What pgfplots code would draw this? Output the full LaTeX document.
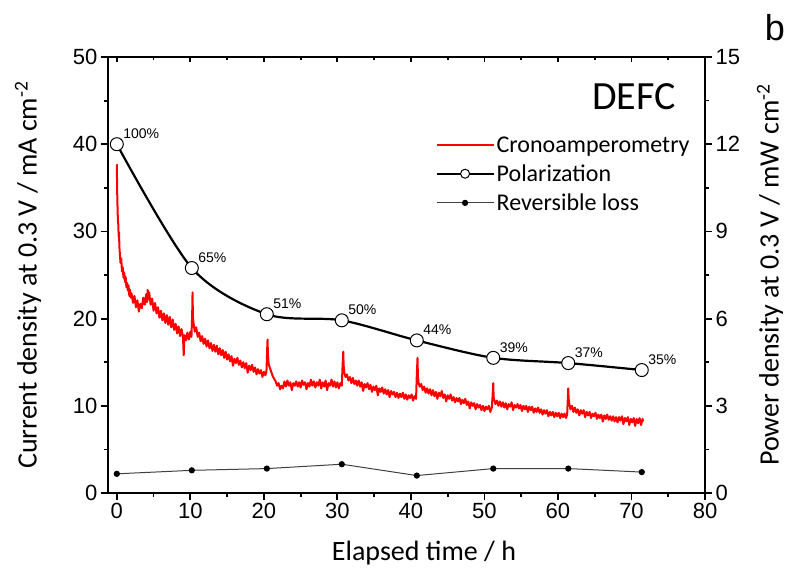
\documentclass[border=0pt]{standalone}
\usepackage{fontspec}
\setmainfont{Carlito}
\newfontfamily\arial{Liberation Sans}
\usepackage{pgfplots}
\pgfplotsset{compat=1.18}

\pgfplotsset{
  mystyle/.style={
    width=597pt, height=436pt, scale only axis,
    xmin=-1.2, xmax=80,
    axis line style={line width=2pt},
    major tick length=7pt, minor tick length=4pt,
    every tick/.style={line width=1.8pt, black},
    tick label style={font=\arial\fontsize{22}{22}\selectfont},
    /pgf/number format/assume math mode=true,
  }
}

\begin{document}
\begin{tikzpicture}[x=1pt,y=1pt]
\useasboundingbox (-108,-81) rectangle (680,493);

% top ticks (inside)
\begin{axis}[mystyle, at={(0,0)}, anchor=south west,
  ymin=0, ymax=1, hide y axis, axis x line*=top, tick align=inside,
  xtick={0,10,...,80}, minor x tick num=1, xticklabels={},
  major tick length=5pt, minor tick length=3pt]
\end{axis}

% right axis
\begin{axis}[mystyle, at={(0,0)}, anchor=south west,
  ymin=0, ymax=15, ytick={0,3,...,15}, minor y tick num=1,
  hide x axis, axis y line*=right, tick align=outside]
\end{axis}

\begin{axis}[mystyle, at={(0,0)}, anchor=south west,
  ymin=0, ymax=50, ytick={0,10,...,50}, minor y tick num=1,
  xtick={0,10,...,80}, minor x tick num=1,
  tick align=outside, xtick pos=bottom, ytick pos=left,
  legend style={draw=none, fill=none, at={(axis description cs:0.544,0.826)}, anchor=north west,
    font=\fontsize{24}{24}\selectfont, row sep=8pt, legend cell align=left,
    nodes={inner sep=1.5pt}},
  legend image code/.code={\draw[#1, mark repeat=2, mark phase=2] plot coordinates {(0pt,0pt) (28pt,0pt) (57pt,0pt)};},
  ]
\addplot[red, line width=2pt, line join=round] coordinates {
(0,37.7)(0.05,34.5)(0.1,32.6)(0.15,31.2)(0.2,30.8)(0.25,29.4)(0.3,29.9)(0.35,28.2)(0.4,27.6)(0.5,26.4)(0.6,26.9)(0.7,25.4)(0.8,25.9)(0.9,24.7)(1.0,25.3)(1.1,24.2)(1.2,24.8)(1.3,23.6)(1.4,24.1)(1.5,23.2)(1.6,23.8)(1.7,22.6)(1.8,23.3)(1.9,22.4)(2.0,22.9)(2.2,21.8)(2.4,22.6)(2.6,21.3)(2.8,22.1)(3.0,20.8)(3.2,21.7)(3.4,21.2)(3.6,22.4)(3.8,21.6)(4.0,22.8)(4.1,21.9)(4.2,23.3)(4.3,22.2)(4.4,23.0)(4.6,21.6)(4.8,22.3)(5.0,20.9)(5.2,21.8)(5.4,20.6)(5.6,21.3)(5.8,20.1)(6.0,20.9)(6.2,19.8)(6.4,20.6)(6.6,19.5)(6.8,20.4)(7.0,19.3)(7.2,20.2)(7.4,19.0)(7.6,19.9)(7.8,18.7)(8.0,19.4)(8.2,18.3)(8.4,19.1)(8.6,18.0)(8.8,18.8)(9.0,17.9)(9.1,15.8)(9.2,18.1)(9.4,17.5)(9.6,18.4)(9.8,17.6)(10.0,18.5)(10.15,17.9)(10.25,20.5)(10.3,23.0)(10.35,20.2)(10.45,19.4)(10.6,18.5)(10.8,19.0)(11.0,17.9)(11.2,18.4)(11.4,17.4)(11.6,18.0)(11.8,17.1)(12.0,17.7)(12.2,16.8)(12.4,17.5)(12.6,16.6)(12.8,17.2)(13.0,16.3)(13.2,17.0)(13.4,16.2)(13.6,16.9)(13.8,15.9)(14.0,16.6)(14.2,15.8)(14.4,16.4)(14.6,15.5)(14.8,16.2)(15.0,15.3)(15.2,15.9)(15.4,15.1)(15.6,15.7)(15.8,14.6)(16.0,15.4)(16.2,14.9)(16.4,15.5)(16.6,14.7)(16.8,15.2)(17.0,14.4)(17.2,15.0)(17.4,14.3)(17.6,14.9)(17.8,13.8)(18.0,14.6)(18.2,14.1)(18.4,14.7)(18.6,13.9)(18.8,14.4)(19.0,13.6)(19.2,14.2)(19.4,13.7)(19.6,14.1)(19.8,13.3)(20.0,13.9)(20.2,13.5)(20.35,13.9)(20.45,16.5)(20.5,17.6)(20.55,16.0)(20.65,14.8)(20.8,14.4)(21.0,13.9)(21.2,13.4)(21.4,13.1)(21.6,12.8)(21.8,12.3)(22.0,12.6)(22.2,11.9)(22.4,12.3)(22.6,12.0)(22.8,12.8)(23.0,12.2)(23.2,12.9)(23.4,12.3)(23.6,12.7)(23.8,11.8)(24.0,12.6)(24.2,12.3)(24.4,12.8)(24.6,12.2)(24.8,12.7)(25.0,12.1)(25.2,12.9)(25.4,12.4)(25.6,12.7)(25.8,11.9)(26.0,12.6)(26.2,12.2)(26.4,13.0)(26.6,12.3)(26.8,12.8)(27.0,12.1)(27.2,12.7)(27.4,12.3)(27.6,13.0)(27.8,12.0)(28.0,12.7)(28.2,12.2)(28.4,12.9)(28.6,11.8)(28.8,12.6)(29.0,12.3)(29.2,13.0)(29.4,12.2)(29.6,12.8)(29.8,12.1)(30.0,12.7)(30.2,12.0)(30.4,12.6)(30.6,12.3)(30.7,14.5)(30.8,16.2)(30.85,14.6)(30.95,13.8)(31.1,13.3)(31.3,13.6)(31.5,12.9)(31.7,13.3)(31.9,12.6)(32.1,13.2)(32.3,12.5)(32.5,12.9)(32.7,12.3)(32.9,12.9)(33.1,12.2)(33.3,12.7)(33.5,11.7)(33.7,12.5)(33.9,12.1)(34.1,12.6)(34.3,11.9)(34.5,12.4)(34.7,11.6)(34.9,12.2)(35.1,11.8)(35.3,12.3)(35.5,11.2)(35.7,12.0)(35.9,11.6)(36.1,12.1)(36.3,11.4)(36.5,11.9)(36.7,11.3)(36.9,11.8)(37.1,11.0)(37.3,11.7)(37.5,11.3)(37.7,11.6)(37.9,11.0)(38.1,11.5)(38.3,10.9)(38.5,11.4)(38.7,11.0)(38.9,11.5)(39.1,10.8)(39.3,11.3)(39.5,10.7)(39.7,11.2)(39.9,10.9)(40.1,11.3)(40.3,10.6)(40.5,11.1)(40.7,10.8)(40.8,13.5)(40.9,15.5)(40.95,13.4)(41.05,12.6)(41.2,12.2)(41.4,12.5)(41.6,11.8)(41.8,12.2)(42.0,11.5)(42.2,12.0)(42.4,11.4)(42.6,11.9)(42.8,11.2)(43.0,11.8)(43.2,11.1)(43.4,11.6)(43.6,10.8)(43.8,11.5)(44.0,11.1)(44.2,11.7)(44.4,10.9)(44.6,11.3)(44.8,10.5)(45.0,11.2)(45.2,10.8)(45.4,11.3)(45.6,10.6)(45.8,11.0)(46.0,10.4)(46.2,10.9)(46.4,10.5)(46.6,10.9)(46.8,10.2)(47.0,10.7)(47.2,10.3)(47.4,10.8)(47.6,10.1)(47.8,10.5)(48.0,9.7)(48.2,10.4)(48.4,10.0)(48.6,10.3)(48.8,9.6)(49.0,10.2)(49.2,9.8)(49.4,10.1)(49.6,9.5)(49.8,10.0)(50.0,9.4)(50.2,9.9)(50.4,9.6)(50.6,10.0)(50.8,9.3)(51.0,9.8)(51.1,11.0)(51.2,12.6)(51.25,11.0)(51.35,10.6)(51.5,10.2)(51.7,10.6)(51.9,10.0)(52.1,10.5)(52.3,9.9)(52.5,10.4)(52.7,9.8)(52.9,10.3)(53.1,9.6)(53.3,10.2)(53.5,9.9)(53.7,10.4)(53.9,9.5)(54.1,10.1)(54.3,9.8)(54.5,10.2)(54.7,9.7)(54.9,10.1)(55.1,9.4)(55.3,10.0)(55.5,9.6)(55.7,10.0)(55.9,9.3)(56.1,9.9)(56.3,9.5)(56.5,9.9)(56.7,9.2)(56.9,9.7)(57.1,9.3)(57.3,9.8)(57.5,9.2)(57.7,9.6)(57.9,9.0)(58.1,9.5)(58.3,9.1)(58.5,9.5)(58.7,8.8)(58.9,9.3)(59.1,8.9)(59.3,9.3)(59.5,8.7)(59.7,9.2)(59.9,8.8)(60.1,9.2)(60.3,8.6)(60.5,9.1)(60.7,8.7)(60.9,9.1)(61.1,8.6)(61.25,9.0)(61.35,11.0)(61.4,12.0)(61.45,10.8)(61.55,10.2)(61.7,9.6)(61.9,10.0)(62.1,9.3)(62.3,9.8)(62.5,9.2)(62.7,9.6)(62.9,8.9)(63.1,9.5)(63.3,9.1)(63.5,9.5)(63.7,8.7)(63.9,9.3)(64.1,8.9)(64.3,9.3)(64.5,8.6)(64.7,9.1)(64.9,8.8)(65.1,9.2)(65.3,8.5)(65.5,9.0)(65.7,8.6)(65.9,9.0)(66.1,8.2)(66.3,8.9)(66.5,8.5)(66.7,9.0)(66.9,8.4)(67.1,8.8)(67.3,8.3)(67.5,8.8)(67.7,8.2)(67.9,8.7)(68.1,8.1)(68.3,8.7)(68.5,8.3)(68.7,8.8)(68.9,7.9)(69.1,8.6)(69.3,8.2)(69.5,8.7)(69.7,7.8)(69.9,8.5)(70.1,8.1)(70.3,8.6)(70.5,7.7)(70.7,8.5)(70.9,8.0)(71.1,8.6)(71.3,7.8)(71.5,8.5)(71.6,8.2)
};
\addlegendentry{Cronoamperometry}

\addplot[black, line width=2.2pt, smooth, mark=*, mark size=6.5pt,
  mark options={fill=white, line width=1pt, solid},
  nodes near coords, point meta=explicit symbolic,
  every node near coord/.style={anchor=south west, font=\arial\fontsize{14}{14}\selectfont, inner sep=1pt, xshift=5pt, yshift=4pt},
  legend image post style={mark size=4.5pt}]
  coordinates {(0,40) [100\%] (10.2,25.8) [65\%] (20.4,20.5) [51\%] (30.6,19.8) [50\%] (40.8,17.5) [44\%] (51.2,15.5) [39\%] (61.4,14.9) [37\%] (71.4,14.1) [35\%]};
\addlegendentry{Polarization}

\addplot[black!75, line width=1pt, mark=*, mark size=2.6pt, mark options={fill=black, draw=black, solid}]
  coordinates {(0,2.2) (10.2,2.6) (20.4,2.8) (30.6,3.3) (40.8,2.0) (51.2,2.8) (61.4,2.8) (71.4,2.4)};
\addlegendentry{Reversible loss}
\end{axis}

\node[rotate=90, font=\fontsize{28}{32}\selectfont] at (-80,218) {Current density at 0.3 V / mA cm\textsuperscript{-2}};
\node[rotate=90, font=\fontsize{28}{32}\selectfont] at (662,218) {Power density at 0.3 V / mW cm\textsuperscript{-2}};
\node[font=\fontsize{28}{32}\selectfont] at (316,-60) {Elapsed time / h};
\node[font=\fontsize{40}{40}\selectfont] at (526,396) {DEFC};
\node[font=\arial\fontsize{36}{36}\selectfont] at (667,465) {b};
\end{tikzpicture}
\end{document}
